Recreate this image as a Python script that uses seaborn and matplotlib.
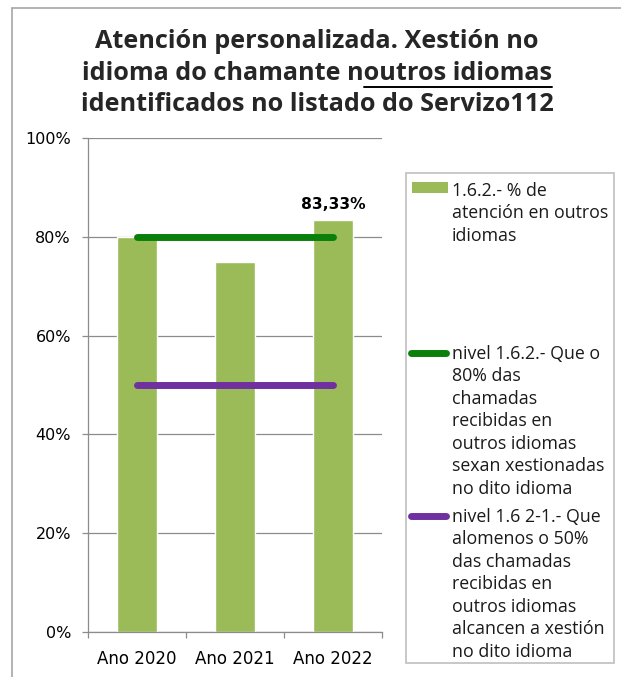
import numpy as np
import matplotlib
matplotlib.use("Agg")
import matplotlib.pyplot as plt
import seaborn as sns
from matplotlib.patches import Rectangle
from matplotlib.lines import Line2D
from matplotlib.ticker import FuncFormatter, FixedLocator

# ---- data ----
categories = ["Ano 2020", "Ano 2021", "Ano 2022"]
values = [0.80, 0.75, 0.8333]
level_80 = [0.80, 0.80, 0.80]
level_50 = [0.50, 0.50, 0.50]
value_labels = ["", "", "83,33%"]
title_lines = ["Atención personalizada. Xestión no",
               "idioma do chamante n", "outros idiomas",
               "identificados no listado do Servizo112"]
legend_labels = ["1.6.2.- % de\natención en outros\nidiomas",
                 "nivel 1.6.2.- Que o\n80% das\nchamadas\nrecibidas en\noutros idiomas\nsexan xestionadas\nno dito idioma",
                 "nivel 1.6 2-1.- Que\nalomenos o 50%\ndas chamadas\nrecibidas en\noutros idiomas\nalcancen a xestión\nno dito idioma"]

BAR = "#9BBB59"
GREEN = "#0A800A"
PURPLE = "#7030A0"
GRID = "#8C8C8C"

sns.set_theme(style="white")
plt.rcParams["font.family"] = ["Open Sans", "DejaVu Sans"]
AXFONT = ["DejaVu Sans"]

W, H = 621, 677
fig = plt.figure(figsize=(W / 100, H / 100), dpi=100)
fig.patch.set_facecolor("white")

def fx(px):
    return px / W

def fy(py):
    return 1 - py / H

# outer frame (only top and left visible)
fig.add_artist(Line2D([fx(12), fx(621)], [fy(8), fy(8)], color="#A6A6A6", lw=1.2))
fig.add_artist(Line2D([fx(12), fx(12)], [fy(8), fy(677)], color="#A6A6A6", lw=1.2))

ax = fig.add_axes([fx(88), fy(632), fx(382 - 88), (632 - 138) / H])
sns.barplot(x=categories, y=values, color=BAR, saturation=1, width=0.4, ax=ax, zorder=2)
xpos = np.arange(len(categories))
ax.plot(xpos, level_80, color=GREEN, lw=5, solid_capstyle="round", zorder=3)
ax.plot(xpos, level_50, color=PURPLE, lw=5, solid_capstyle="round", zorder=3)

for i, lab in enumerate(value_labels):
    if lab:
        ax.text(xpos[i], values[i] + 0.0224, lab, ha="center", va="baseline",
                fontsize=11.2, fontweight="bold", color="black", family=AXFONT)

ax.set_xlim(-0.5, len(categories) - 0.5)
ax.set_ylim(0, 1)
ax.set_yticks(np.arange(0, 1.01, 0.2))
ax.yaxis.set_major_formatter(FuncFormatter(lambda v, p: f"{v*100:.0f}%"))
ax.yaxis.grid(True, color=GRID, lw=0.9)
ax.set_axisbelow(True)
ax.set_xlabel("")
ax.set_ylabel("")
for s in ["top", "right"]:
    ax.spines[s].set_visible(False)
for s in ["left", "bottom"]:
    ax.spines[s].set_color(GRID)
    ax.spines[s].set_linewidth(0.9)
ax.tick_params(axis="y", length=4.3, color=GRID, width=0.9, labelsize=11.5, pad=8, left=True)
ax.tick_params(axis="x", which="major", length=0, labelsize=12, pad=12.8, bottom=True)
ax.xaxis.set_minor_locator(FixedLocator(np.arange(-0.5, len(categories), 1.0)))
ax.tick_params(axis="x", which="minor", length=4.3, color=GRID, width=0.9, bottom=True)
for t in ax.get_xticklabels() + ax.get_yticklabels():
    t.set_color("black")
    t.set_family(AXFONT)

# title
tfs = 18.2
cx = fx(317)
fig.text(cx, fy(48), title_lines[0], ha="center", va="baseline", fontsize=tfs, fontweight="bold")
full2 = title_lines[1] + title_lines[2]
t2 = fig.text(cx, fy(80), full2, ha="center", va="baseline", fontsize=tfs, fontweight="bold")
fig.text(cx, fy(111), title_lines[3], ha="center", va="baseline", fontsize=tfs, fontweight="bold")
fig.canvas.draw()
r = fig.canvas.get_renderer()
bb = t2.get_window_extent(r)
tmp = fig.text(0, 0, title_lines[1], fontsize=tfs, fontweight="bold")
wpre = tmp.get_window_extent(r).width
tmp.remove()
fig.add_artist(Line2D([(bb.x0 + wpre) / W, bb.x1 / W], [fy(86.5), fy(86.5)], color="black", lw=1.4))

# legend (manual, Excel-like)
fig.add_artist(Rectangle((fx(406), fy(663)), fx(614 - 406), (663 - 173) / H,
                         fill=False, edgecolor="#BFBFBF", lw=1.2))
lfs = 12.8
ys = [190, 353, 516]
fig.add_artist(Rectangle((fx(412), fy(193)), fx(36), 10.5 / H, facecolor=BAR, edgecolor="none"))
fig.add_artist(Line2D([fx(411), fx(446)], [fy(ys[1]), fy(ys[1])], color=GREEN, lw=5, solid_capstyle="round"))
fig.add_artist(Line2D([fx(411), fx(446)], [fy(ys[2]), fy(ys[2])], color=PURPLE, lw=5, solid_capstyle="round"))
for y, lab in zip(ys, legend_labels):
    fig.text(fx(452), fy(y - 8), lab, ha="left", va="top", fontsize=lfs, linespacing=1.32, color="#1a1a1a")

fig.savefig("out.png", dpi=100)
